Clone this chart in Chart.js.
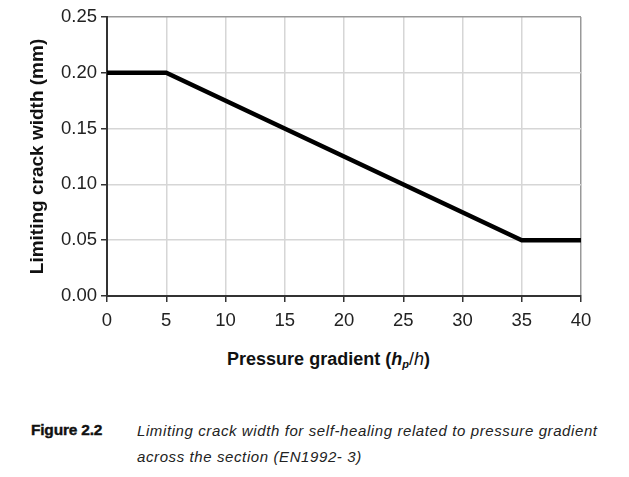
<!DOCTYPE html>
<html>
<head>
<meta charset="utf-8">
<script src="https://cdn.jsdelivr.net/npm/chart.js@4"></script>
<style>
  body { margin: 0; background: #fff; font-family: "Liberation Sans", Arial, sans-serif; }
  #wrap { position: relative; width: 629px; height: 477px; }
  #box { position: absolute; left: 0; top: 0; width: 629px; height: 340px; }
  #xtitle { position: absolute; left: 0; width: 657px; top: 348px; text-align: center;
            font-weight: bold; font-size: 18px; color: #111; line-height: 22px; }
  #xtitle sub { font-size: 11px; vertical-align: -3px; }
  #figno { position: absolute; left: 31px; top: 421px; font-weight: bold; font-size: 15.5px;
           color: #111; letter-spacing: -0.2px; -webkit-text-stroke: 0.4px #111; }
  #figtext { position: absolute; left: 137px; top: 418px; font-style: italic; font-size: 15px;
             letter-spacing: 0.6px; line-height: 26px; color: #222; }
</style>
</head>
<body>
<div id="wrap">
  <div id="box"><canvas id="line-chart"></canvas></div>
  <div id="xtitle">Pressure gradient (<i>h<sub>p</sub></i><span style="font-weight:normal">/<i>h</i></span>)</div>
  <div id="figno">Figure 2.2</div>
  <div id="figtext">Limiting crack width for self-healing related to pressure gradient<br>across the section (EN1992- 3)</div>
</div>
<script>
// pressure gradient hp/h and limiting crack width (mm)
var gradient = [0, 5, 35, 40];
var crackWidth = [0.20, 0.20, 0.05, 0.05];
var xTicks = [0, 5, 10, 15, 20, 25, 30, 35, 40];
var yTicks = [0.00, 0.05, 0.10, 0.15, 0.20, 0.25];

var points = gradient.map(function (g, i) { return { x: g, y: crackWidth[i] }; });

new Chart(document.getElementById("line-chart"), {
    type: 'scatter',
    data: {
        datasets: [{
            data: points,
            showLine: true,
            borderColor: '#000',
            borderWidth: 4.5,
            pointRadius: 0,
            borderJoinStyle: 'miter',
            tension: 0
        }]
    },
    options: {
        responsive: true,
        maintainAspectRatio: false,
        animation: false,
        layout: { padding: { top: 17, right: 48, left: 0, bottom: 0 } },
        plugins: { legend: { display: false }, tooltip: { enabled: false } },
        scales: {
            x: {
                type: 'linear',
                min: 0, max: 40,
                afterBuildTicks: function (scale) {
                    scale.ticks = xTicks.map(function (v) { return { value: v }; });
                },
                afterFit: function (scale) { scale.height = 44; },
                ticks: { color: '#222', font: { size: 18.5 }, padding: 8, maxRotation: 0 },
                grid: {
                    color: function (ctx) { return ctx.index === xTicks.length - 1 ? '#999' : '#d6d6d6'; },
                    lineWidth: 1.5,
                    tickColor: '#333',
                    tickLength: 6
                },
                border: { color: '#333', width: 2 }
            },
            y: {
                min: 0, max: 0.25,
                afterBuildTicks: function (scale) {
                    scale.ticks = yTicks.map(function (v) { return { value: v }; });
                },
                afterFit: function (scale) { scale.width = 107; },
                ticks: {
                    color: '#222', font: { size: 18.5 }, padding: 4,
                    callback: function (v) { return v.toFixed(2); }
                },
                grid: {
                    color: function (ctx) { return ctx.index === yTicks.length - 1 ? '#999' : '#d6d6d6'; },
                    lineWidth: 1.5,
                    tickColor: '#333',
                    tickLength: 6
                },
                border: { color: '#333', width: 2 },
                title: {
                    display: true,
                    text: 'Limiting crack width (mm)',
                    color: '#111',
                    font: { size: 19, weight: 'bold' },
                    padding: { top: 26, bottom: 0 }
                }
            }
        }
    }
});
</script>
</body>
</html>
